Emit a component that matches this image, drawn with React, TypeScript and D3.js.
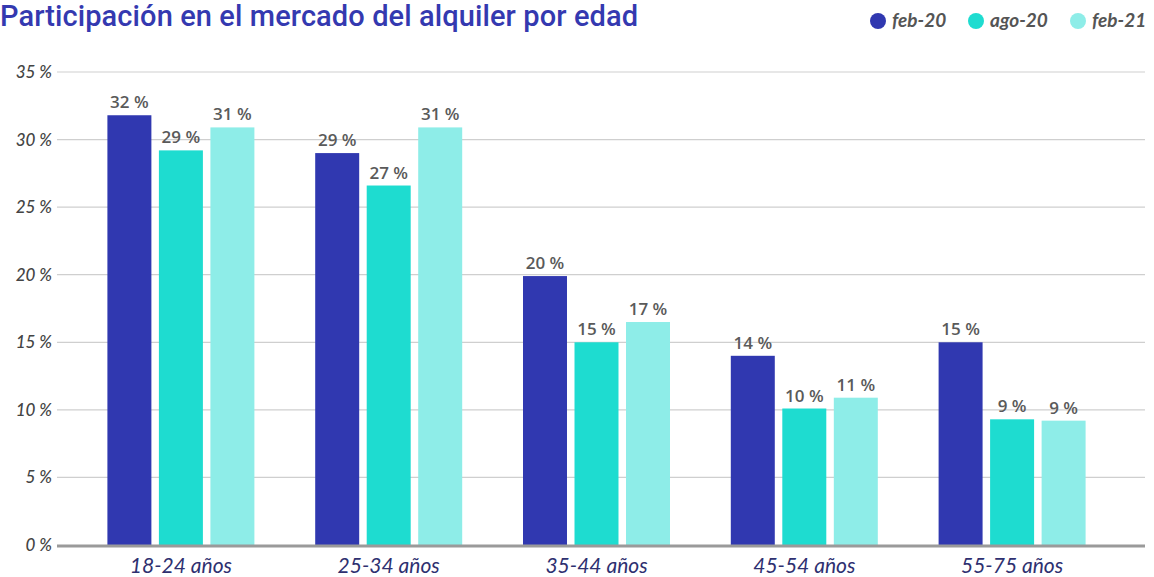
import React, { useEffect, useRef } from "react";
import * as d3 from "d3";

const categories = ["18-24 años", "25-34 años", "35-44 años", "45-54 años", "55-75 años"];
const seriesNames = ["feb-20", "ago-20", "feb-21"];
const feb20 = [31.8, 29.0, 19.9, 14.0, 15.0];
const ago20 = [29.2, 26.6, 15.0, 10.1, 9.3];
const feb21 = [30.9, 30.9, 16.5, 10.9, 9.2];
const valueLabels = [
  ["32 %", "29 %", "31 %"],
  ["29 %", "27 %", "31 %"],
  ["20 %", "15 %", "17 %"],
  ["14 %", "10 %", "11 %"],
  ["15 %", "9 %", "9 %"],
];
const yTicks = [0, 5, 10, 15, 20, 25, 30, 35];
const colors = ["#3038b0", "#1edcd0", "#8eede8"];

const App: React.FC = () => {
  const svgRef = useRef(null);
  useEffect(() => {
    const w = 1154;
    const h = 577;
    const svg = d3.select(svgRef.current).attr("width", w).attr("height", h);
    svg.selectAll("*").remove();

    const seriesData = [feb20, ago20, feb21];

    const y = d3.scaleLinear().domain([0, 35]).range([545, 72]);
    const x0 = d3
      .scaleBand()
      .domain(categories)
      .range([77, 1116])
      .paddingInner(0.2926)
      .paddingOuter(0.1463);
    const x1 = d3
      .scaleBand()
      .domain(seriesNames)
      .range([0, x0.bandwidth()])
      .paddingInner(0.146);

    // title
    svg
      .append("text")
      .attr("x", 0)
      .attr("y", 26)
      .attr("fill", "#3439b0")
      .style("font-family", "Roboto")
      .style("font-weight", 500)
      .style("font-size", "29px")
      .style("letter-spacing", "0.1px")
      .text("Participación en el mercado del alquiler por edad");

    // legend
    const legendX = [878, 976, 1078];
    seriesNames.forEach((s, i) => {
      svg
        .append("circle")
        .attr("cx", legendX[i])
        .attr("cy", 21)
        .attr("r", 8)
        .attr("fill", colors[i]);
      svg
        .append("text")
        .attr("x", legendX[i] + 14)
        .attr("y", 27)
        .attr("fill", "#555")
        .style("font-family", "Lato")
        .style("font-style", "italic")
        .style("font-weight", 700)
        .style("font-size", "19px")
        .text(s);
    });

    // grid
    svg
      .append("g")
      .selectAll("line")
      .data(yTicks.filter((t) => t > 0))
      .enter()
      .append("line")
      .attr("x1", 57)
      .attr("x2", 1145)
      .attr("y1", (d) => y(d))
      .attr("y2", (d) => y(d))
      .attr("stroke", "#cfcfcf")
      .attr("stroke-width", 1.2);

    svg
      .append("g")
      .selectAll("text")
      .data(yTicks)
      .enter()
      .append("text")
      .attr("x", 52)
      .attr("y", (d) => y(d) + 6)
      .attr("text-anchor", "end")
      .attr("fill", "#444")
      .style("font-family", "Lato")
      .style("font-style", "italic")
      .style("font-weight", 500)
      .style("font-size", "17px")
      .text((d) => d + " %");

    // bars
    const groups = svg
      .append("g")
      .selectAll("g")
      .data(categories)
      .enter()
      .append("g")
      .attr("transform", (d) => `translate(${x0(d)},0)`);

    seriesNames.forEach((s, si) => {
      groups
        .append("rect")
        .attr("x", x1(s))
        .attr("width", x1.bandwidth())
        .attr("y", (d, ci) => y(seriesData[si][ci]))
        .attr("height", (d, ci) => y(0) - y(seriesData[si][ci]))
        .attr("fill", colors[si]);
      groups
        .append("text")
        .attr("x", x1(s) + x1.bandwidth() / 2)
        .attr("y", (d, ci) => y(seriesData[si][ci]) - 7)
        .attr("text-anchor", "middle")
        .attr("fill", "#5a5a5a")
        .style("font-family", "Open Sans")
        .style("font-weight", 600)
        .style("font-size", "17px")
        .text((d, ci) => valueLabels[ci][si]);
    });

    // baseline
    svg
      .append("line")
      .attr("x1", 57)
      .attr("x2", 1145)
      .attr("y1", y(0) + 1)
      .attr("y2", y(0) + 1)
      .attr("stroke", "#9a9a9a")
      .attr("stroke-width", 3);

    // category labels
    svg
      .append("g")
      .selectAll("text")
      .data(categories)
      .enter()
      .append("text")
      .attr("x", (d) => x0(d) + x0.bandwidth() / 2)
      .attr("y", 573)
      .attr("text-anchor", "middle")
      .attr("fill", "#2e3070")
      .style("font-family", "Lato")
      .style("font-style", "italic")
      .style("font-size", "21px")
      .text((d) => d);
  }, []);

  return (
    <svg
      ref={svgRef}
      style={{ position: "absolute", left: 0, top: 0, background: "#fff" }}
    />
  );
};

export default App;
